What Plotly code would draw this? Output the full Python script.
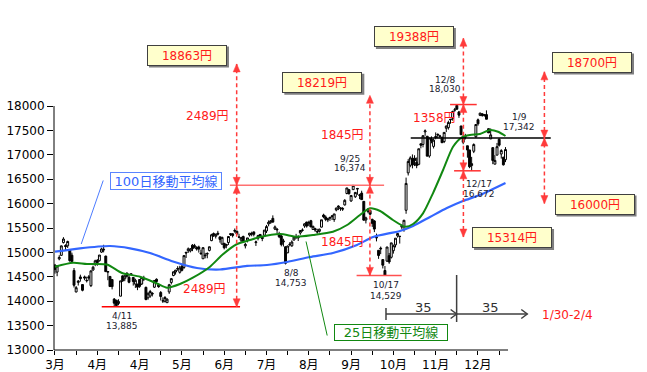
import plotly.graph_objects as go

# ---------------- data (Nikkei 225 daily, 2014/3/3 - 2015/1/15, trading-day index) ----------------
opens = [
    14738, 14596, 14867, 14940, 15202, 15142, 15135, 15050, 14942, 14630, 14190, 14385, 14497, 14341, 14498, 14420, 14500, 14319, 14640, 14760,
    14835, 14830, 15006, 15048, 14924, 14595, 14508, 14443, 14043, 14020, 13953, 14103, 14520, 14460, 14575, 14490, 14562, 14485, 14350, 14351, 14444,
    14352, 14471, 14284, 14070, 14106, 14163, 14287, 14450, 14336, 14178, 14008, 13998, 13970, 14190, 14384, 14526, 14598, 14658, 14592, 14716,
    14692, 15003, 15033, 15030, 15149, 15136, 15105, 15110, 14985, 14870, 14945, 14967, 15041, 15241, 15386, 15330, 15393, 15318, 15170, 15187, 15139,
    15203, 15383, 15380, 15450, 15433, 15311, 15251, 15326, 15135, 15242, 15356, 15383, 15420, 15200, 15290, 15368, 15311, 15352, 15439, 15585, 15617, 15697,
    15477, 15460, 15381, 15337, 15214, 15115, 14992, 15169, 15135, 15254, 15299, 15296, 15398, 15456, 15542, 15623, 15586, 15649, 15470, 15487, 15420,
    15431, 15518, 15766, 15723, 15691, 15720, 15734, 15673, 15868, 15922, 15896, 15900, 15973, 16207, 16286, 16054, 16286, 16140, 16297, 16176,
    16215, 16046, 15664, 15840, 15858, 15677, 15645, 15310, 15043, 15088, 14853, 14629, 14821, 14933, 14900, 15035, 15154, 15338, 15327, 15518, 15524, 15863,
    16630, 16786, 16922, 16931, 16845, 16805, 17226, 17212, 17470, 17380, 16975, 17320, 17172, 17374, 17418, 17382, 17353, 17272,
    17544, 17557, 17729, 17749, 17916, 18012, 17878, 17591, 17354, 17360, 17185, 17100, 16779, 17073, 17371, 17717, 17809, 17840, 17811, 17824, 17535,
    17325, 17147, 16808, 16993, 17318, 17016, 16950, 16900,
]
highs = [
    14764, 14737, 14943, 15140, 15312, 15167, 15240, 15064, 14995, 14680, 14311, 14433, 14544, 14341, 14525, 14502, 14536, 14627, 14728, 14850,
    14864, 14946, 15096, 15156, 14933, 14613, 14514, 14452, 14065, 14027, 14041, 14417, 14527, 14543, 14590, 14532, 14574, 14495, 14461, 14351, 14452,
    14499, 14521, 14298, 14177, 14232, 14185, 14425, 14467, 14355, 14208, 14080, 14105, 14059, 14355, 14476, 14611, 14642, 14717, 14726, 14741,
    14935, 15009, 15101, 15090, 15170, 15175, 15125, 15138, 15058, 15103, 14990, 15002, 15119, 15381, 15408, 15385, 15442, 15330, 15321, 15193, 15176,
    15327, 15396, 15393, 15490, 15448, 15381, 15319, 15344, 15196, 15297, 15396, 15424, 15428, 15241, 15359, 15376, 15322, 15457, 15563, 15656, 15664, 15759,
    15552, 15496, 15423, 15360, 15279, 15124, 15140, 15209, 15248, 15322, 15380, 15350, 15450, 15493, 15596, 15625, 15649, 15667, 15548, 15505, 15484,
    15486, 15668, 15793, 15758, 15707, 15725, 15749, 15788, 15917, 15965, 15921, 15928, 16091, 16321, 16293, 16167, 16374, 16239, 16321, 16200,
    16264, 16046, 15732, 15903, 15867, 15691, 15661, 15385, 15045, 15120, 14859, 14722, 15111, 14989, 15196, 15161, 15291, 15395, 15336, 15563, 15668, 16533,
    16911, 16970, 17008, 16991, 16945, 17124, 17229, 17392, 17520, 17387, 17344, 17378, 17333, 17459, 17440, 17409, 17379, 17460,
    17598, 17699, 17735, 17904, 17961, 18030, 17899, 17591, 17407, 17430, 17185, 17100, 16958, 17234, 17621, 17743, 17862, 17850, 17837, 17911, 17541,
    17540, 17158, 16994, 17243, 17342, 17115, 16960, 17158,
]
lows = [
    14565, 14512, 14838, 14931, 15183, 15047, 15091, 14808, 14814, 14280, 14180, 14321, 14401, 14203, 14430, 14384, 14422, 14290, 14620, 14717,
    14726, 14812, 14991, 15001, 14604, 14430, 14292, 14242, 13885, 13910, 13917, 14100, 14396, 14410, 14486, 14367, 14537, 14320, 14272, 14226, 14274,
    14332, 14413, 14019, 14031, 14070, 14097, 14270, 14370, 14275, 14015, 13964, 13973, 13966, 14149, 14344, 14512, 14545, 14623, 14565, 14611,
    14662, 14886, 14990, 14999, 15025, 15083, 15037, 14996, 14955, 14864, 14878, 14880, 15021, 15230, 15316, 15285, 15349, 15200, 15157, 15062, 15084,
    15152, 15337, 15307, 15404, 15362, 15291, 15211, 15209, 15081, 15205, 15324, 15330, 15329, 15132, 15247, 15303, 15230, 15335, 15397, 15535, 15584, 15610,
    15458, 15384, 15293, 15124, 15121, 14753, 14984, 15123, 15114, 15244, 15281, 15233, 15361, 15425, 15504, 15508, 15539, 15521, 15466, 15421, 15383,
    15406, 15510, 15700, 15640, 15621, 15645, 15663, 15626, 15842, 15867, 15852, 15851, 15960, 16190, 16182, 16036, 16280, 16116, 16181, 16091,
    16075, 15652, 15594, 15803, 15760, 15523, 15416, 15226, 14868, 14965, 14671, 14529, 14806, 14766, 14875, 14975, 15102, 15303, 15181, 15471, 15424, 15792,
    16576, 16746, 16722, 16769, 16725, 16785, 17132, 17153, 17390, 16973, 16940, 17236, 17130, 17318, 17340, 17338, 17248, 17240,
    17466, 17516, 17637, 17700, 17881, 17923, 17757, 17412, 17217, 17315, 16941, 16726, 16672, 17035, 17346, 17597, 17793, 17781, 17782, 17729, 17449,
    17325, 16808, 16808, 16993, 17168, 16923, 16780, 16850,
]
closes = [
    14652, 14721, 14897, 15134, 15274, 15120, 15224, 14830, 14815, 14327, 14277, 14411, 14462, 14224, 14475, 14423, 14477, 14622, 14696, 14828,
    14791, 14946, 15071, 15063, 14606, 14607, 14300, 14299, 13960, 13910, 13996, 14417, 14417, 14516, 14512, 14388, 14546, 14404, 14429, 14288, 14304,
    14485, 14457, 14034, 14163, 14199, 14149, 14425, 14405, 14298, 14096, 14006, 14075, 14042, 14337, 14462, 14602, 14636, 14670, 14681, 14632,
    14935, 14989, 15074, 15069, 15077, 15124, 15069, 15068, 14973, 15097, 14933, 14975, 15115, 15361, 15349, 15369, 15376, 15266, 15308, 15095, 15162,
    15326, 15369, 15348, 15437, 15379, 15314, 15302, 15216, 15164, 15297, 15395, 15379, 15370, 15215, 15343, 15328, 15284, 15457, 15529, 15618, 15646, 15621,
    15523, 15474, 15320, 15160, 15232, 14778, 15130, 15161, 15213, 15314, 15318, 15322, 15449, 15454, 15586, 15539, 15613, 15521, 15534, 15459, 15424,
    15476, 15668, 15728, 15676, 15668, 15705, 15749, 15788, 15909, 15948, 15911, 15888, 16067, 16321, 16205, 16167, 16374, 16229, 16310, 16173,
    16082, 15661, 15708, 15890, 15783, 15595, 15478, 15300, 14936, 15073, 14738, 14532, 15111, 14804, 15195, 15138, 15291, 15388, 15329, 15553, 15658, 16413,
    16862, 16937, 16792, 16880, 16780, 17124, 17197, 17392, 17490, 16973, 17344, 17288, 17300, 17357, 17407, 17383, 17248, 17459,
    17590, 17663, 17720, 17887, 17920, 17935, 17813, 17412, 17257, 17371, 17099, 16755, 16819, 17210, 17621, 17635, 17854, 17808, 17818, 17729, 17450,
    17408, 16883, 16885, 17167, 17197, 17087, 16795, 17108,
]
days = list(range(len(closes)))

# moving averages (trading-day index, value)
ma100_days = [0, 11.8, 26, 35.5, 44.9, 55.8, 67.1, 78, 90.8, 100.2, 109.7, 120.6, 131.4, 142.8, 150.4, 163.1, 169.3, 177.3, 185.3, 192.9, 200.9, 213]
ma100 = [15015, 15084, 15131, 15084, 14988, 14814, 14681, 14650, 14722, 14742, 14804, 14906, 14988, 15152, 15316, 15439, 15541, 15726, 15910, 16054, 16176, 16422]
ma25_days = [0, 8.5, 15.1, 24.6, 31.7, 40.2, 48.2, 53, 59.1, 65.2, 73.3, 79, 86.1, 92.2, 96.9, 106.4, 114.4, 122, 131.4, 138.1,
             144.2, 148.9, 153.7, 159.8, 165.5, 169.3, 174, 178.7, 183.5, 188.2, 192.4, 196.2, 200.9, 205.7, 209.5, 213]
ma25 = [14707, 14789, 14763, 14752, 14578, 14502, 14363, 14277, 14353, 14482, 14707, 14947, 15172, 15254, 15316, 15377, 15322, 15357, 15424, 15562,
        15767, 15904, 15849, 15664, 15527, 15582, 15801, 16211, 16689, 17166, 17359, 17406, 17426, 17508, 17473, 17385]

# axis ticks
month_labels = ["3月", "4月", "4月", "5月", "6月", "7月", "8月", "9月", "10月", "11月", "12月"]
x_tick_days = list(range(0, 211, 10))
y_ticks = list(range(13000, 18001, 500))

# key levels and targets
low_0411, high_0925, low_1017 = 13885, 16374, 14529
high_1208, low_1217, close_0109 = 18030, 16672, 17342
target1, target2, target3_up, target3_dn, target4_up, target4_dn = 18863, 18219, 19388, 15314, 18700, 16000

# ---------------- figure ----------------
FONT = "DejaVu Sans, Noto Sans CJK JP, sans-serif"
X0, X1 = -0.47, 276.6
Y0, Y1 = 13000, 20070
DX = 2.115          # px per trading day (used only to size small decorations)
DY = 20.49          # yen per px

fig = go.Figure()
fig.add_trace(go.Candlestick(
    x=days, open=opens, high=highs, low=lows, close=closes,
    increasing=dict(line=dict(color="black", width=1), fillcolor="white"),
    decreasing=dict(line=dict(color="black", width=1), fillcolor="black"),
    whiskerwidth=0, showlegend=False, hoverinfo="skip"))
fig.add_trace(go.Scatter(x=ma100_days, y=ma100, mode="lines", showlegend=False, hoverinfo="skip",
                         line=dict(color="#3366FF", width=2.2, shape="spline", smoothing=0.7)))
fig.add_trace(go.Scatter(x=ma25_days, y=ma25, mode="lines", showlegend=False, hoverinfo="skip",
                         line=dict(color="#118811", width=2, shape="spline", smoothing=0.7)))

shapes = []
def hline(x0, x1, y, color, width=1.5):
    shapes.append(dict(type="line", xref="x", yref="y", x0=x0, x1=x1, y0=y, y1=y,
                       line=dict(color=color, width=width)))
def vline(x, y0, y1, color, width=1.5, dash=None):
    ln = dict(color=color, width=width)
    if dash:
        ln["dash"] = dash
    shapes.append(dict(type="line", xref="x", yref="y", x0=x, x1=x, y0=y0, y1=y1, line=ln))
def head(x, tip, up, color):
    hw, hh = 3.5 / DX, 8 * DY
    base = tip - hh if up else tip + hh
    shapes.append(dict(type="path", xref="x", yref="y",
                       path=f"M {x-hw},{base} L {x+hw},{base} L {x},{tip} Z",
                       fillcolor=color, line=dict(color=color, width=0.5)))
def darrow(x, a, b, color="#FF3B3B"):
    vline(x, a, b, color, 1.5, "4px,3px")
    head(x, b, True, color)
    head(x, a, False, color)
def chevron(x, y, color="#3F3F3F"):
    shapes.append(dict(type="path", xref="x", yref="y",
                       path=f"M {x-6/DX},{y+4.5*DY} L {x},{y} L {x-6/DX},{y-4.5*DY}",
                       fillcolor="rgba(0,0,0,0)", line=dict(color=color, width=1.5)))

# horizontal reference lines
hline(22.1, 87.5, low_0411, "#FF0000")
hline(82.7, 155.6, high_0925, "#FF7070")
hline(142.6, 163.9, low_1017, "#FF5050")
hline(186.8, 199.4, high_1208, "#FF3030")
hline(188.7, 201.3, low_1217, "#FF3030")
hline(168.2, 234.4, close_0109, "black")

# dashed double arrows
darrow(85.9, low_0411, high_0925)
darrow(85.9, high_0925, target1)
darrow(148.9, low_1017, high_0925)
darrow(148.9, high_0925, target2)
darrow(193.1, target3_dn, low_1217)
darrow(193.1, low_1217, high_1208)
darrow(193.1, high_1208, target3_up)
darrow(231.4, target4_dn, close_0109)
darrow(231.4, close_0109, target4_up)

# 35-day projection arrows
vline(156.5, 13615, 13861, "#3F3F3F")
hline(156.5, 189.9, 13738, "#3F3F3F")
chevron(189.9, 13738)
vline(189.9, 13574, 14537, "#3F3F3F")
hline(189.9, 223.3, 13738, "#3F3F3F")
chevron(223.3, 13738)

# callout lines
shapes.append(dict(type="line", xref="x", yref="y", x0=22.8, y0=16474, x1=12.4, y1=15172,
                   line=dict(color="#4D7CFF", width=1)))
shapes.append(dict(type="line", xref="x", yref="y", x0=118.7, y0=15224, x1=128.7, y1=13297,
                   line=dict(color="#118811", width=1)))

# axis lines
shapes.append(dict(type="line", xref="paper", yref="paper", x0=0, x1=(214.2 - X0) / (X1 - X0), y0=0, y1=0,
                   line=dict(color="black", width=1)))
shapes.append(dict(type="line", xref="paper", yref="paper", x0=0, x1=0, y0=0, y1=(18000 - Y0) / (Y1 - Y0),
                   line=dict(color="black", width=1)))

def box(x, y, text, color, bg, border, w, h, size=12, shadow=False):
    if shadow:
        hw, hh = (w / 2 + 2) / DX, (h / 2 + 2) * DY
        ox, oy = 2 / DX, 2 * DY
        shapes.append(dict(type="rect", xref="x", yref="y", x0=x - hw + ox, x1=x + hw + ox,
                           y0=y - hh - oy, y1=y + hh - oy, fillcolor="#7F7F7F", line=dict(width=0)))
    fig.add_annotation(x=x, y=y, text=text, showarrow=False, xanchor="center", yanchor="middle",
                       font=dict(family=FONT, size=size, color=color), bgcolor=bg, bordercolor=border,
                       borderwidth=1, borderpad=1, width=w, height=h)

def label(x, y, text, color, size):
    fig.add_annotation(x=x, y=y, text=text, showarrow=False, xanchor="center", yanchor="middle",
                       font=dict(family=FONT, size=size, color=color))

YEL = "#FFFFCC"
RED = "#FF1A1A"
box(62.4, 19045, f"{target1}円", RED, YEL, "#404040", 76, 17, shadow=True)
box(126.4, 18486, f"{target2}円", RED, YEL, "#404040", 76, 17, shadow=True)
box(169.7, 19424, f"{target3_up}円", RED, YEL, "#404040", 76, 17, shadow=True)
box(253.9, 18902, f"{target4_up}円", RED, YEL, "#404040", 76, 17, shadow=True)
box(255.1, 15992, f"{target4_dn}円", RED, YEL, "#404040", 76, 17, shadow=True)
box(216.1, 15306, f"{target3_dn}円", RED, YEL, "#404040", 76, 17, shadow=True)
box(52.5, 16463, "100日移動平均線", "#3366FF", "white", "#5B84FF", 108, 14, size=13)
box(158.9, 13349, "25日移動平均線", "#118811", "white", "#118811", 110, 13, size=13)

label(72.3, 17795, f"{target1 - high_0925}円", RED, 12)
label(70.9, 14250, f"{high_0925 - low_0411}円", RED, 12)
label(135.7, 17406, f"{target2 - high_0925}円", RED, 12)
label(135.7, 15213, f"{high_0925 - low_1017}円", RED, 12)
label(179.2, 17754, f"{target3_up - high_1208}円", RED, 12)

DK = "#1A1A2E"
for (x, yd, yv, d, v) in [(31.5, 13697, 13502, "4/11", low_0411), (111.6, 14578, 14373, "8/8", 14753),
                          (139.6, 16924, 16730, "9/25", high_0925), (156.5, 14322, 14107, "10/17", low_1017),
                          (184.4, 18543, 18348, "12/8", high_1208), (200.7, 16392, 16197, "12/17", low_1217),
                          (219.4, 17775, 17580, "1/9", close_0109)]:
    label(x, yd, d, DK, 9)
    label(x, yv, f"{v:,}", DK, 9)

label(174.0, 13881, "35", "#303030", 13)
label(205.7, 13881, "35", "#303030", 13)
label(242.1, 13718, "1/30-2/4", RED, 12)

fig.update_layout(
    width=647, height=372, margin=dict(l=54, r=7, t=5, b=22),
    plot_bgcolor="white", paper_bgcolor="white", showlegend=False,
    boxgap=0.05, boxgroupgap=0.05,
    shapes=shapes,
    xaxis=dict(range=[X0, X1], showgrid=False, zeroline=False, showline=False,
               tickmode="array", tickvals=x_tick_days,
               ticktext=[month_labels[d // 20] if d % 20 == 0 else "" for d in x_tick_days],
               ticks="outside", ticklen=4, tickcolor="black", automargin=False,
               tickfont=dict(family=FONT, size=12, color="black"),
               rangeslider=dict(visible=False)),
    yaxis=dict(range=[Y0, Y1], showgrid=False, zeroline=False, showline=False,
               tickmode="array", tickvals=y_ticks, ticktext=[str(v) for v in y_ticks],
               ticks="outside", ticklen=6, tickcolor="black", automargin=False,
               tickfont=dict(family=FONT, size=12, color="black")),
)

fig.write_html("out.html", config={"displayModeBar": False},
               post_script="document.body.style.margin='0';document.body.style.padding='0';document.body.style.overflow='hidden';")
